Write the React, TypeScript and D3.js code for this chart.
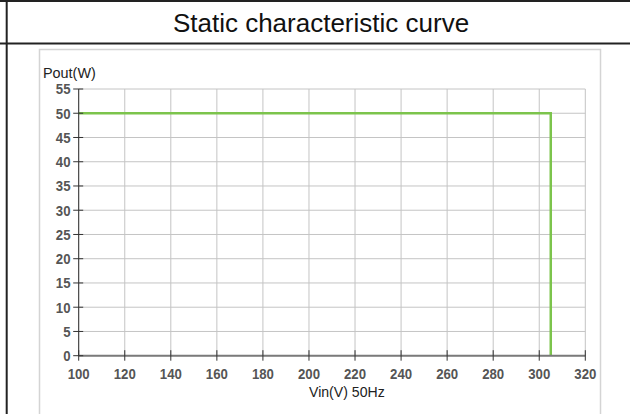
import React from "react";
import * as d3 from "d3";

const title = "Static characteristic curve";
const yAxisTitle = "Pout(W)";
const xAxisTitle = "Vin(V) 50Hz";
const xTickValues = [100, 120, 140, 160, 180, 200, 220, 240, 260, 280, 300, 320];
const yTickValues = [0, 5, 10, 15, 20, 25, 30, 35, 40, 45, 50, 55];
const curveVin = [100, 305, 305];
const curvePout = [50, 50, 0];

const W = 630;
const H = 414;
const FONT = "'Liberation Sans', Arial, sans-serif";

export default function App() {
  const x = d3.scaleLinear().domain([100, 320]).range([78.7, 585.3]);
  const y = d3.scaleLinear().domain([0, 55]).range([355.7, 89]);
  const pts: [number, number][] = curveVin.map((v, i) => [v, curvePout[i]]);
  const line = d3
    .line<[number, number]>()
    .x((d) => x(d[0]))
    .y((d) => y(d[1]));

  const tickLabel = (tx: number, ty: number, anchor: string, s: string) => (
    <text
      transform={`translate(${tx},${ty}) scale(0.88,1)`}
      textAnchor={anchor}
      fontFamily={FONT}
      fontSize={15}
      fontWeight="bold"
      fill="#555"
    >
      {s}
    </text>
  );

  return (
    <svg
      width={W}
      height={H}
      style={{ position: "fixed", left: 0, top: 0, background: "#fff" }}
    >
      <rect x={0} y={0} width={W} height={H} fill="#fff" />
      {/* table borders */}
      <line x1={0} x2={W} y1={1} y2={1} stroke="#222" strokeWidth={2} />
      <line x1={0} x2={W} y1={43.5} y2={43.5} stroke="#222" strokeWidth={2} />
      <line x1={6.7} x2={6.7} y1={0} y2={H} stroke="#222" strokeWidth={2} />
      <text
        x={321}
        y={31.5}
        textAnchor="middle"
        fontFamily={FONT}
        fontSize={26}
        fill="#111"
      >
        {title}
      </text>

      {/* chart frame */}
      <rect
        x={39.5}
        y={49.5}
        width={561}
        height={370}
        fill="#fff"
        stroke="#d4d4d4"
        strokeWidth={1.5}
      />

      {/* grid */}
      {xTickValues.map((t) => (
        <line
          key={"gx" + t}
          x1={x(t)}
          x2={x(t)}
          y1={y(55)}
          y2={y(0)}
          stroke="#c4c4c4"
          strokeWidth={1}
        />
      ))}
      {yTickValues.map((t) => (
        <line
          key={"gy" + t}
          x1={x(100)}
          x2={x(320)}
          y1={y(t)}
          y2={y(t)}
          stroke="#c4c4c4"
          strokeWidth={1}
        />
      ))}

      {/* curve */}
      <path
        d={line(pts) || ""}
        fill="none"
        stroke="#7cc44c"
        strokeWidth={2.5}
      />

      {/* x axis */}
      <line
        x1={x(100)}
        x2={x(320)}
        y1={y(0)}
        y2={y(0)}
        stroke="#7a7a7a"
        strokeWidth={2}
      />
      {xTickValues.map((t) => (
        <g key={"xt" + t}>
          <line
            x1={x(t)}
            x2={x(t)}
            y1={y(0) - 5.5}
            y2={y(0) + 5}
            stroke="#333"
            strokeWidth={1}
          />
          {tickLabel(x(t), 378.5, "middle", String(t))}
        </g>
      ))}

      {/* y axis */}
      <line
        x1={x(100)}
        x2={x(100)}
        y1={y(55)}
        y2={y(0)}
        stroke="#333"
        strokeWidth={1}
      />
      {yTickValues.map((t) => (
        <g key={"yt" + t}>
          <line
            x1={x(100) - 5.5}
            x2={x(100) + 4.5}
            y1={y(t)}
            y2={y(t)}
            stroke="#333"
            strokeWidth={1}
          />
          {tickLabel(70.5, y(t) + 5.3, "end", String(t))}
        </g>
      ))}

      <text
        transform="translate(43,77.5) scale(0.96,1)"
        fontFamily={FONT}
        fontSize={15}
        fill="#222"
      >
        {yAxisTitle}
      </text>
      <text
        transform="translate(309,396.5) scale(0.94,1)"
        fontFamily={FONT}
        fontSize={15}
        fill="#222"
      >
        {xAxisTitle}
      </text>
    </svg>
  );
}
